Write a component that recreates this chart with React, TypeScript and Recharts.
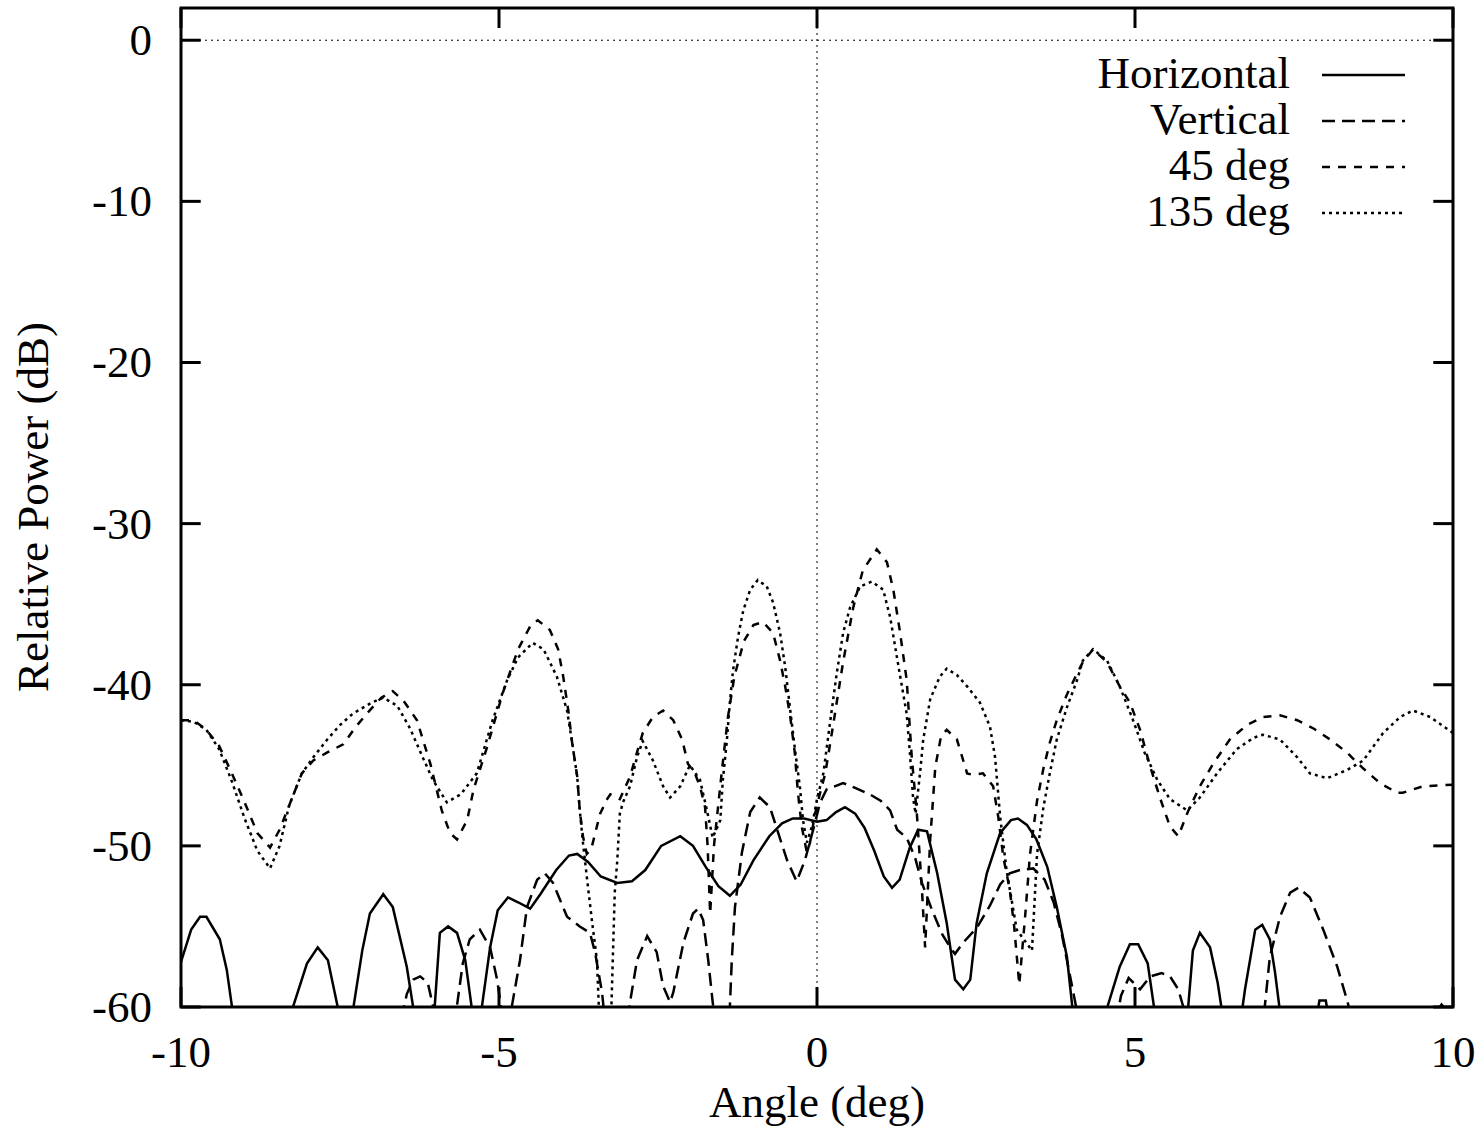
import React from 'react';
import { LineChart, Line, XAxis, YAxis, ReferenceLine, ReferenceArea, Customized } from 'recharts';

type Pt = [number, number];

const FONT = "'Liberation Serif', 'Times New Roman', serif";

const X_TICKS = [-10, -5, 0, 5, 10];
const Y_TICKS = [0, -10, -20, -30, -40, -50, -60];

// values far below -60 are clipped by the axis domain
const HORIZONTAL: Pt[] = [
  [-10, -57.2], [-9.84, -55.2], [-9.7, -54.4], [-9.6, -54.4], [-9.39, -55.8], [-9.28, -57.7], [-9.18, -60.5],
  [-8.75, -70], [-8.28, -60.5], [-8.02, -57.3], [-7.85, -56.3], [-7.69, -57.1], [-7.52, -60.3], [-7.4, -70],
  [-7.3, -60.3], [-7.15, -56.5], [-7.03, -54.2], [-6.82, -53.0], [-6.67, -53.8], [-6.45, -57.5], [-6.33, -60.5],
  [-6.15, -70], [-6.02, -60.5], [-5.93, -55.4], [-5.8, -55.0], [-5.66, -55.4], [-5.53, -57.1], [-5.42, -60.3],
  [-5.35, -70], [-5.28, -60.3], [-5.14, -56.3], [-5.02, -54.0], [-4.86, -53.2], [-4.7, -53.5], [-4.51, -53.9],
  [-4.35, -53.0], [-4.1, -51.5], [-3.9, -50.6], [-3.77, -50.5], [-3.6, -51.0], [-3.4, -51.9], [-3.14, -52.3],
  [-2.91, -52.2], [-2.7, -51.5], [-2.45, -50.0], [-2.15, -49.4], [-1.95, -50.0], [-1.75, -51.3], [-1.55, -52.5],
  [-1.37, -53.1], [-1.2, -52.4], [-1.0, -50.9], [-0.75, -49.4], [-0.55, -48.6], [-0.38, -48.3], [-0.2, -48.3],
  [0, -48.5], [0.15, -48.4], [0.3, -47.9], [0.44, -47.6], [0.6, -48.0], [0.75, -48.9], [0.9, -50.3],
  [1.05, -51.9], [1.18, -52.6], [1.3, -52.1], [1.46, -50.1], [1.59, -49.0], [1.73, -49.1], [1.89, -51.7],
  [2.04, -54.8], [2.17, -58.3], [2.3, -58.9], [2.41, -58.3], [2.51, -54.8], [2.67, -51.7], [2.88, -49.2],
  [3.05, -48.4], [3.16, -48.3], [3.3, -48.7], [3.45, -49.6], [3.62, -51.3], [3.77, -53.8], [3.93, -56.9],
  [4.02, -60.2], [4.3, -70], [4.55, -60.2], [4.76, -57.5], [4.92, -56.1], [5.05, -56.1], [5.2, -57.3],
  [5.31, -60.3], [5.57, -70], [5.83, -60.3], [5.91, -56.5], [6.02, -55.4], [6.18, -56.3], [6.3, -58.5],
  [6.37, -60.3], [6.52, -70], [6.68, -60.3], [6.73, -58.9], [6.89, -55.2], [7.0, -54.9], [7.12, -55.8],
  [7.2, -57.8], [7.28, -60.3], [7.58, -70], [7.87, -60.3], [7.9, -59.6], [8.0, -59.6], [8.03, -60.3],
  [8.9, -70], [9.76, -60.2], [9.82, -59.85], [9.9, -60.2], [10, -62],
];

const VERTICAL: Pt[] = [
  [-10, -75], [-6.55, -61], [-6.45, -59.2], [-6.35, -58.3], [-6.24, -58.1], [-6.12, -58.5], [-6.04, -59.9],
  [-5.98, -61], [-5.85, -66], [-5.72, -61], [-5.66, -59.9], [-5.57, -57.3], [-5.46, -55.8], [-5.3, -55.2],
  [-5.14, -56.3], [-5.03, -58.3], [-4.95, -60.5], [-4.88, -63], [-4.8, -60], [-4.67, -57.1], [-4.56, -53.8],
  [-4.4, -52.1], [-4.28, -51.7], [-4.15, -52.3], [-3.93, -54.4], [-3.73, -55.0], [-3.57, -55.4], [-3.49, -56.6],
  [-3.38, -59.1], [-3.33, -61], [-3.15, -68], [-2.98, -61], [-2.94, -59.7], [-2.83, -57.1], [-2.67, -55.6],
  [-2.52, -56.6], [-2.42, -58.7], [-2.31, -59.7], [-2.26, -59.1], [-2.1, -56.0], [-1.95, -54.2], [-1.87, -53.9],
  [-1.79, -54.6], [-1.71, -57.1], [-1.64, -59.7], [-1.6, -61], [-1.5, -66], [-1.4, -61], [-1.37, -60],
  [-1.34, -57.1], [-1.29, -53.8], [-1.18, -50.4], [-1.05, -47.9], [-0.9, -47.0], [-0.74, -47.6], [-0.61, -49.2],
  [-0.47, -50.9], [-0.32, -52.2], [-0.19, -50.9], [-0.06, -49.0], [0.05, -47.3], [0.15, -46.5], [0.41, -46.1],
  [0.6, -46.4], [0.83, -46.8], [1.0, -47.2], [1.15, -47.8], [1.26, -49.0], [1.41, -49.5], [1.54, -50.7],
  [1.65, -52.3], [1.81, -54.0], [1.97, -55.5], [2.11, -56.4], [2.17, -56.7], [2.3, -56.0], [2.51, -55.1],
  [2.72, -53.7], [2.88, -52.4], [3.03, -51.7], [3.19, -51.5], [3.4, -51.4], [3.58, -52.1], [3.72, -53.5],
  [3.85, -55.5], [3.95, -57.5], [4.06, -59.7], [4.12, -61], [4.4, -68], [4.7, -61], [4.78, -59.3],
  [4.9, -58.2], [5.08, -58.9], [5.24, -58.1], [5.42, -57.9], [5.55, -58.1], [5.68, -58.9], [5.76, -60],
  [5.85, -62], [6.4, -70], [6.98, -62], [7.04, -60], [7.12, -56.9], [7.28, -54.4], [7.44, -52.9],
  [7.57, -52.6], [7.75, -53.2], [7.96, -55.2], [8.18, -57.5], [8.35, -59.8], [8.45, -62], [10, -75],
];

const DEG45: Pt[] = [
  [-10, -42.2], [-9.8, -42.2], [-9.6, -42.8], [-9.4, -43.8], [-9.2, -45.5], [-9.0, -47.3], [-8.8, -49.2],
  [-8.6, -50.1], [-8.45, -49.0], [-8.3, -47.5], [-8.1, -45.5], [-7.92, -44.7], [-7.7, -44.2], [-7.45, -43.7],
  [-7.25, -42.6], [-7.08, -41.8], [-6.85, -40.8], [-6.67, -40.4], [-6.5, -41.0], [-6.29, -42.2], [-6.08, -44.9],
  [-5.9, -47.8], [-5.77, -49.2], [-5.66, -49.6], [-5.5, -48.4], [-5.4, -46.5], [-5.19, -43.9], [-4.94, -40.5],
  [-4.7, -37.8], [-4.5, -36.3], [-4.39, -36.0], [-4.2, -36.6], [-4.07, -37.8], [-3.99, -39.5], [-3.91, -41.6],
  [-3.85, -43.6], [-3.77, -45.7], [-3.73, -47.8], [-3.68, -49.4], [-3.62, -50.5], [-3.55, -50.2], [-3.41, -48.0],
  [-3.3, -47.1], [-3.25, -46.8], [-3.1, -47.1], [-2.94, -45.7], [-2.83, -44.2], [-2.74, -43.0], [-2.58, -42.0],
  [-2.42, -41.6], [-2.26, -42.2], [-2.12, -43.4], [-2.03, -44.9], [-1.92, -45.5], [-1.84, -46.3], [-1.76, -47.6],
  [-1.72, -50.0], [-1.68, -54.2], [-1.62, -50.0], [-1.5, -45.5], [-1.4, -42.0], [-1.3, -39.5], [-1.15, -37.3],
  [-1.0, -36.3], [-0.85, -36.1], [-0.69, -36.8], [-0.58, -38.5], [-0.5, -40.1], [-0.42, -42.0], [-0.35, -44.2],
  [-0.3, -46.7], [-0.24, -48.8], [-0.16, -50.4], [-0.11, -49.8], [-0.03, -48.0], [0.05, -46.7], [0.13, -45.5],
  [0.25, -42.6], [0.41, -38.6], [0.57, -35.2], [0.72, -32.9], [0.94, -31.6], [1.1, -32.4], [1.2, -34.1],
  [1.3, -36.6], [1.41, -39.7], [1.49, -44.5], [1.57, -48.0], [1.65, -52.7], [1.7, -56.3], [1.78, -49.6],
  [1.86, -45.1], [1.95, -43.2], [2.04, -42.8], [2.2, -43.4], [2.36, -45.5], [2.45, -45.6], [2.61, -45.5],
  [2.77, -46.3], [2.85, -48.2], [2.93, -50.7], [3.03, -52.7], [3.1, -55.0], [3.18, -58.6], [3.27, -54.5],
  [3.35, -50.5], [3.46, -47.2], [3.56, -45.2], [3.66, -43.6], [3.77, -42.2], [3.93, -40.6], [4.09, -39.3],
  [4.18, -38.6], [4.34, -37.8], [4.56, -38.6], [4.76, -40.1], [4.92, -41.1], [5.08, -42.8], [5.24, -45.1],
  [5.4, -47.1], [5.55, -48.8], [5.68, -49.4], [5.83, -47.9], [6.02, -46.3], [6.23, -44.9], [6.49, -43.4],
  [6.76, -42.5], [7.01, -42.0], [7.28, -41.9], [7.55, -42.2], [7.8, -42.7], [8.07, -43.4], [8.33, -44.2],
  [8.59, -45.2], [8.85, -46.1], [9.12, -46.7], [9.21, -46.7], [9.53, -46.3], [10, -46.2],
];

const DEG135: Pt[] = [
  [-10, -42.2], [-9.8, -42.3], [-9.6, -42.8], [-9.4, -44.0], [-9.2, -46.0], [-9.0, -48.3], [-8.8, -50.3],
  [-8.6, -51.4], [-8.45, -50.0], [-8.3, -47.5], [-8.1, -45.5], [-7.92, -44.5], [-7.7, -43.4], [-7.5, -42.5],
  [-7.3, -41.8], [-7.0, -41.1], [-6.82, -40.8], [-6.6, -41.3], [-6.4, -42.7], [-6.2, -44.5], [-6.04, -45.9],
  [-5.82, -47.3], [-5.6, -46.8], [-5.35, -45.5], [-5.1, -42.2], [-4.87, -39.7], [-4.7, -38.3], [-4.47, -37.4],
  [-4.3, -37.8], [-4.09, -39.5], [-3.93, -41.6], [-3.85, -43.6], [-3.77, -45.7], [-3.73, -47.8], [-3.68, -49.8],
  [-3.62, -51.9], [-3.54, -54.6], [-3.46, -57.1], [-3.42, -61], [-3.33, -68], [-3.24, -61], [-3.18, -52.9],
  [-3.14, -50.9], [-3.1, -48.0], [-3.05, -47.3], [-2.94, -46.3], [-2.83, -44.5], [-2.74, -43.5], [-2.58, -44.7],
  [-2.42, -46.3], [-2.31, -47.0], [-2.15, -46.3], [-2.0, -45.0], [-1.84, -45.9], [-1.73, -47.8], [-1.64, -49.5],
  [-1.52, -48.4], [-1.48, -45.9], [-1.42, -43.6], [-1.37, -41.1], [-1.32, -39.1], [-1.24, -37.0], [-1.16, -35.4],
  [-1.05, -34.1], [-0.93, -33.5], [-0.79, -33.9], [-0.69, -34.9], [-0.58, -36.8], [-0.5, -38.9], [-0.42, -41.6],
  [-0.35, -43.9], [-0.27, -46.3], [-0.22, -48.4], [-0.16, -49.8], [-0.08, -48.8], [0, -47.1], [0.1, -45.5],
  [0.2, -42.5], [0.31, -39.3], [0.41, -36.8], [0.52, -35.2], [0.68, -33.9], [0.86, -33.6], [1.04, -34.1],
  [1.15, -35.8], [1.3, -39.3], [1.41, -41.8], [1.46, -44.2], [1.51, -47.0], [1.55, -48.0], [1.62, -45.5],
  [1.67, -43.4], [1.78, -40.9], [1.93, -39.5], [2.04, -39.0], [2.2, -39.4], [2.36, -40.1], [2.56, -41.1],
  [2.72, -42.6], [2.8, -44.5], [2.88, -48.2], [2.98, -51.5], [3.14, -55.2], [3.38, -56.5], [3.46, -50.5],
  [3.56, -47.6], [3.66, -45.5], [3.77, -43.4], [3.93, -41.4], [4.09, -39.7], [4.18, -38.5], [4.34, -37.8],
  [4.56, -38.5], [4.76, -40.1], [4.97, -42.2], [5.15, -44.2], [5.35, -45.9], [5.55, -47.1], [5.82, -47.8],
  [6.02, -47.0], [6.29, -45.5], [6.6, -44.0], [6.86, -43.3], [7.01, -43.1], [7.28, -43.4], [7.55, -44.5],
  [7.75, -45.5], [8.02, -45.8], [8.33, -45.3], [8.59, -44.7], [8.9, -43.0], [9.17, -42.0], [9.37, -41.6],
  [9.64, -42.0], [10, -43.0],
];

const SERIES = [
  { name: 'Horizontal', data: HORIZONTAL, dash: undefined as string | undefined },
  { name: 'Vertical', data: VERTICAL, dash: '13 7' },
  { name: '45 deg', data: DEG45, dash: '8 8' },
  { name: '135 deg', data: DEG135, dash: '3 4' },
];

const toRows = (pts: Pt[]) => pts.map(([x, y]) => ({ x, y }));

// inward tick length in data units (about 20px)
const TICK_DX = 0.31;
const TICK_DY = 1.24;

const YTick = ({ x, y, payload }: any) => (
  <text x={x} y={y} dy={15} textAnchor="end" fontSize={45} fontFamily={FONT} fill="#000">
    {String(payload.value)}
  </text>
);

const XTick = ({ x, y, payload }: any) => (
  <text x={x} y={y} dy={60} textAnchor="middle" fontSize={45} fontFamily={FONT} fill="#000">
    {String(payload.value)}
  </text>
);

function Decorations() {
  return (
    <g fontFamily={FONT} fontSize={45} fill="#000">
      <text x={817} y={1117} textAnchor="middle">Angle (deg)</text>
      <text transform="translate(48,507) rotate(-90)" textAnchor="middle">Relative Power (dB)</text>
      {SERIES.map((s, i) => (
        <g key={s.name}>
          <text x={1290} y={88 + i * 46} textAnchor="end">{s.name}</text>
          <line x1={1322} x2={1405} y1={75 + i * 46} y2={75 + i * 46} stroke="#000" strokeWidth={2.5} strokeDasharray={s.dash} />
        </g>
      ))}
    </g>
  );
}

export default function App() {
  return (
    <div style={{ position: 'absolute', left: 0, top: 0, width: 1482, height: 1128, background: '#fff' }}>
      <LineChart width={1482} height={1128} margin={{ top: 8, right: 29, left: 61, bottom: 41 }}>
        <XAxis
          type="number"
          dataKey="x"
          domain={[-10, 10]}
          ticks={X_TICKS}
          allowDataOverflow
          axisLine={false}
          tickLine={false}
          tickSize={0}
          tickMargin={0}
          height={80}
          tick={<XTick />}
        />
        <YAxis
          type="number"
          dataKey="y"
          domain={[-60, 2]}
          ticks={Y_TICKS}
          allowDataOverflow
          axisLine={false}
          tickLine={false}
          tickSize={0}
          tickMargin={29}
          width={120}
          tick={<YTick />}
        />
        <ReferenceLine y={0} stroke="#000" strokeWidth={1} strokeDasharray="2 4" />
        <ReferenceLine x={0} stroke="#000" strokeWidth={1} strokeDasharray="2 4" />
        {SERIES.map((s) => (
          <Line
            key={s.name}
            data={toRows(s.data)}
            dataKey="y"
            name={s.name}
            type="linear"
            stroke="#000"
            strokeWidth={2.5}
            strokeDasharray={s.dash}
            dot={false}
            activeDot={false}
            isAnimationActive={false}
          />
        ))}
        {Y_TICKS.map((v) => (
          <ReferenceLine key={`yl${v}`} segment={[{ x: -10, y: v }, { x: -10 + TICK_DX, y: v }]} stroke="#000" strokeWidth={3} />
        ))}
        {Y_TICKS.map((v) => (
          <ReferenceLine key={`yr${v}`} segment={[{ x: 10 - TICK_DX, y: v }, { x: 10, y: v }]} stroke="#000" strokeWidth={3} />
        ))}
        {X_TICKS.map((v) => (
          <ReferenceLine key={`xb${v}`} segment={[{ x: v, y: -60 }, { x: v, y: -60 + TICK_DY }]} stroke="#000" strokeWidth={3} />
        ))}
        {X_TICKS.map((v) => (
          <ReferenceLine key={`xt${v}`} segment={[{ x: v, y: 2 }, { x: v, y: 2 - TICK_DY }]} stroke="#000" strokeWidth={3} />
        ))}
        <ReferenceArea x1={-10} x2={10} y1={-60} y2={2} fill="none" fillOpacity={0} stroke="#000" strokeWidth={3} />
        <Customized component={<Decorations />} />
      </LineChart>
    </div>
  );
}
